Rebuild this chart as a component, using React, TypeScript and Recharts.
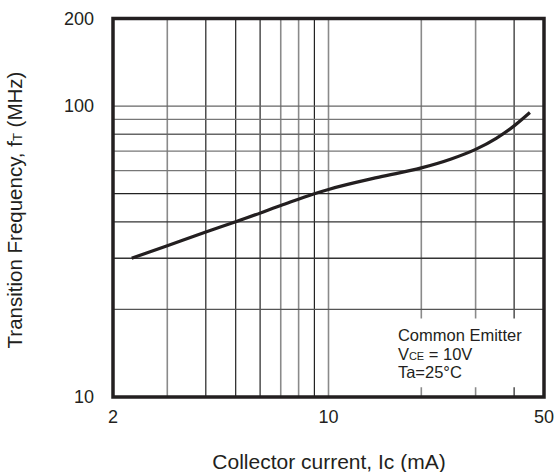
import React from "react";
import { Label, Line, LineChart, ReferenceArea, ReferenceLine, XAxis, YAxis } from "recharts";

const currentMA = [2.3, 3, 4, 5, 7, 9, 10, 14.6, 20, 25, 30, 35, 40, 45];
const ftMHz = [30, 33.1, 36.9, 40, 45.5, 50, 51.7, 57, 61.3, 65.8, 71, 77.5, 85.5, 95];

const xTicks = [2, 10, 50];
const yTicks = [10, 100, 200];
const xGrid = [3, 4, 5, 6, 7, 8, 9, 10, 20, 30, 40];
const yGrid = [20, 30, 40, 50, 60, 70, 80, 90, 100];
const noteLines = ["Common Emitter", "VCE = 10V", "Ta=25°C"];

// scanned gridlines alternate between dark and grey strokes
const xGridStroke = ["#8a8a8a", "#222", "#222", "#222", "#8a8a8a", "#8a8a8a", "#222", "#8a8a8a", "#8a8a8a", "#8a8a8a", "#222"];
const yGridStroke = ["#555", "#333", "#333", "#222", "#777", "#777", "#666", "#777", "#666"];

const data = currentMA.map((ic, i) => ({ ic, ft: ftMHz[i] }));

const FONT = "'Liberation Sans', Arial, sans-serif";
const INK = "#231f20";

function Note({ viewBox }: any) {
  const x = viewBox.x + 4;
  const y = viewBox.y + 22;
  return (
    <g fontFamily={FONT} fontSize={16.5} fill={INK}>
      <text x={x} y={y}>{noteLines[0]}</text>
      <text x={x} y={y + 19}>
        <tspan>V</tspan>
        <tspan fontSize={11}>CE</tspan>
        <tspan>{noteLines[1].slice(3)}</tspan>
      </text>
      <text x={x} y={y + 37.5}>{noteLines[2]}</text>
    </g>
  );
}

export default function App() {
  return (
    <div style={{ position: "absolute", left: 0, top: 0, background: "#fff" }}>
      <LineChart width={559} height={472} data={data} margin={{ top: 18.5, right: 15, bottom: 0, left: 0 }}>
        <XAxis
          dataKey="ic"
          type="number"
          scale="log"
          domain={[2, 50]}
          ticks={xTicks}
          allowDataOverflow
          height={75}
          axisLine={false}
          tickLine={false}
          tickSize={0}
          tickMargin={13}
          tick={{ fill: INK, fontSize: 18, fontFamily: FONT }}
        >
          <Label
            content={() => (
              <text x={329} y={469} textAnchor="middle" fill={INK} fontSize={21} fontFamily={FONT}>
                Collector current, Ic (mA)
              </text>
            )}
          />
        </XAxis>
        <YAxis
          type="number"
          scale="log"
          domain={[10, 200]}
          ticks={yTicks}
          allowDataOverflow
          width={113}
          axisLine={false}
          tickLine={false}
          tickSize={0}
          tickMargin={19}
          tick={{ fill: INK, fontSize: 18, fontFamily: FONT }}
        >
          <Label
            content={() => (
              <text
                x={22}
                y={210}
                transform="rotate(-90, 22, 210)"
                textAnchor="middle"
                fill={INK}
                fontSize={20.5}
                fontFamily={FONT}
              >
                Transition Frequency, f<tspan fontSize={13}>T</tspan> (MHz)
              </text>
            )}
          />
        </YAxis>
        {xGrid.map((v, i) => (
          <ReferenceLine key={"x" + v} x={v} stroke={xGridStroke[i]} strokeWidth={xGridStroke[i] === "#222" ? 1.2 : 1.6} zIndex={400} />
        ))}
        {yGrid.map((v, i) => (
          <ReferenceLine key={"y" + v} y={v} stroke={yGridStroke[i]} strokeWidth={1.4} zIndex={400} />
        ))}
        <ReferenceArea
          x1={16.3}
          x2={50}
          y1={10.8}
          y2={18.6}
          fill="#fff"
          fillOpacity={1}
          stroke="none"
          label={<Note />}
          zIndex={450}
        />
        <Line
          dataKey="ft"
          type="monotone"
          stroke={INK}
          strokeWidth={3.2}
          dot={false}
          isAnimationActive={false}
          zIndex={500}
        />
        <ReferenceArea x1={2} x2={50} y1={10} y2={200} fill="none" stroke={INK} strokeWidth={3.5} zIndex={600} />
      </LineChart>
    </div>
  );
}
